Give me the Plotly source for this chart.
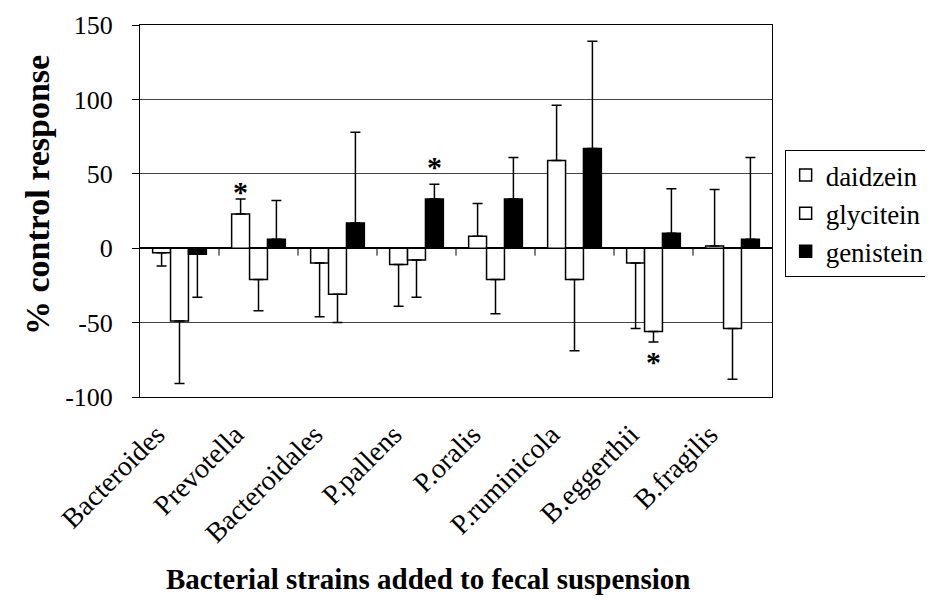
import plotly.graph_objects as go

# strains on the x axis
strains = ["Bacteroides", "Prevotella", "Bacteroidales", "P.pallens",
           "P.oralis", "P.ruminicola", "B.eggerthii", "B.fragilis"]

# % control response (mean) and one-sided error (SD) per isoflavone
daidzein = [-3, 23, -10, -11, 8, 59, -10, 1.5]
daidzein_err = [9, 10, 36, 28, 22, 37, 44, 38]

glycitein = [-49, -21, -31, -8, -21, -21, -56, -54]
glycitein_err = [42, 21, 19, 25, 23, 48, 7, 34]

genistein = [-4, 6, 17, 33, 33, 67, 10, 6]
genistein_err = [29, 26, 61, 10, 28, 72, 30, 55]

# significance markers (*)
sig_strain = ["Prevotella", "P.pallens", "B.eggerthii"]
sig_series = ["daidzein", "genistein", "glycitein"]
sig_y = [38, 55, -76]

y_ticks = [-100, -50, 0, 50, 100, 150]
y_labels = ["-100", "-50", "0", "50", "100", "150"]

FONT = "Liberation Serif, Times New Roman, Times, serif"
BARGAP = 0.32


def one_sided(vals, errs):
    up = [e if v >= 0 else 0 for v, e in zip(vals, errs)]
    down = [e if v < 0 else 0 for v, e in zip(vals, errs)]
    return dict(type="data", symmetric=False, array=up, arrayminus=down,
                color="black", thickness=1.5, width=5)


fig = go.Figure()
series = [
    ("daidzein", daidzein, daidzein_err, "white"),
    ("glycitein", glycitein, glycitein_err, "white"),
    ("genistein", genistein, genistein_err, "black"),
]
for name, vals, errs, fill in series:
    fig.add_trace(go.Bar(
        x=strains, y=vals, name=name,
        marker=dict(color=fill, line=dict(color="black", width=1.5)),
        error_y=one_sided(vals, errs),
    ))

# asterisks over the marked bar inside each group
bar_w = (1 - BARGAP) / len(series)
names = [s[0] for s in series]
for st, se, yv in zip(sig_strain, sig_series, sig_y):
    xi = strains.index(st) + (names.index(se) - 1) * bar_w
    fig.add_annotation(x=xi, y=yv, text="<b>*</b>", showarrow=False,
                       font=dict(family=FONT, size=30, color="black"))

# small ticks on the zero line between categories
for i in range(1, len(strains)):
    fig.add_shape(type="line", xref="x", yref="y", x0=i - 0.5, x1=i - 0.5,
                  y0=0, y1=-5, line=dict(color="black", width=1))

# axis titles
fig.add_annotation(xref="paper", yref="paper", x=0.456, y=-0.49,
                   text="<b>Bacterial strains added to fecal suspension</b>",
                   showarrow=False, xanchor="center", yanchor="middle",
                   font=dict(family=FONT, size=29, color="black"))
fig.add_annotation(xref="paper", yref="paper", x=-0.163, y=0.543,
                   text="<b>% control response</b>", textangle=-90,
                   showarrow=False, xanchor="center", yanchor="middle",
                   font=dict(family=FONT, size=34, color="black"))

fig.update_layout(
    width=933, height=603,
    margin=dict(l=132, r=169, t=17, b=214, autoexpand=False),
    barmode="group", bargap=BARGAP, bargroupgap=0,
    plot_bgcolor="white", paper_bgcolor="white",
    font=dict(family=FONT, color="black", size=28),
    legend=dict(x=1.02, y=0.664, xanchor="left", yanchor="top",
                bordercolor="black", borderwidth=1,
                font=dict(family=FONT, size=27, color="black"),
                tracegroupgap=0, itemwidth=30),
    showlegend=True,
)
fig.update_xaxes(
    automargin=False,
    showline=True, linecolor="black", linewidth=1, mirror=True,
    ticks="", tickangle=-45, tickfont=dict(family=FONT, size=28),
    ticklabelshift=-23, ticklabelstandoff=9,
    range=[-0.5, len(strains) - 0.5],
)
fig.update_yaxes(
    automargin=False, ticklabeloverflow="allow",
    range=[-100, 150], tickvals=y_ticks, ticktext=y_labels,
    showline=True, linecolor="black", linewidth=1, mirror=True,
    ticks="outside", ticklen=7, tickcolor="black",
    ticklabelstandoff=14,
    showgrid=True, gridcolor="#444", gridwidth=1,
    zeroline=True, zerolinecolor="black", zerolinewidth=1.5,
    tickfont=dict(family=FONT, size=26),
)

fig.write_html("out.html")
